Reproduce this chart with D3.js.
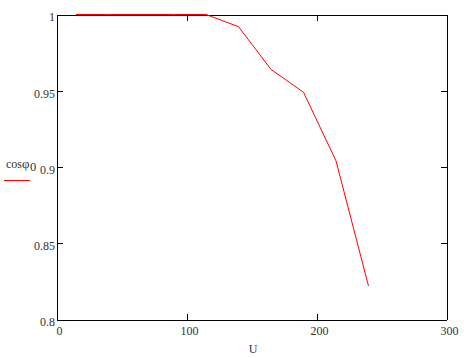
<!DOCTYPE html>
<html>
<head>
<meta charset="utf-8">
<script src="https://cdn.jsdelivr.net/npm/d3@7"></script>
<style>
  html, body { margin: 0; padding: 0; background: #fff; }
  svg { display: block; }
  text { font-family: "Liberation Serif", "Times New Roman", serif; fill: #333; }
</style>
</head>
<body>
<svg id="chart" width="464" height="358"></svg>
<script>
const U = [15, 40, 65, 90, 115, 140, 165, 190, 215, 240];
const cosPhi = [1, 1, 1, 1, 1, 0.992, 0.964, 0.949, 0.904, 0.822];
const xTicks = [0, 100, 200, 300];
const yTicks = [0.8, 0.85, 0.9, 0.95, 1];
const yTickLabels = ["0.8", "0.85", "0.9", "0.95", "1"];

const svg = d3.select("#chart");
const x = d3.scaleLinear().domain([0, 300]).range([56.5, 446.5]);
const y = d3.scaleLinear().domain([0.8, 1]).range([319.5, 14.5]);

const fontSize = 12;

// bottom axis
const gB = svg.append("g").attr("transform", `translate(0,${y(0.8)})`)
  .call(d3.axisBottom(x).tickValues(xTicks).tickSize(-6).tickSizeOuter(0).tickPadding(6.5).tickFormat(d3.format("d")));
gB.selectAll("text").attr("dx", 2.5);
// top axis
svg.append("g").attr("transform", `translate(0,${y(1)})`)
  .call(d3.axisTop(x).tickValues(xTicks).tickSize(-6).tickSizeOuter(0).tickFormat(""));
// left axis
const gL = svg.append("g").attr("transform", `translate(${x(0)},0)`)
  .call(d3.axisLeft(y).tickValues(yTicks).tickSize(-6).tickSizeOuter(0).tickPadding(1.5)
    .tickFormat((d, i) => yTickLabels[i]));
gL.selectAll("text").attr("y", 2.5);
// right axis
svg.append("g").attr("transform", `translate(${x(300)},0)`)
  .call(d3.axisRight(y).tickValues(yTicks).tickSize(-6).tickSizeOuter(0).tickFormat(""));

svg.selectAll(".domain, .tick line").attr("stroke", "#000").attr("stroke-width", 1)
  .attr("shape-rendering", "crispEdges");
svg.selectAll(".tick text").attr("font-size", fontSize)
  .attr("font-family", "'Liberation Serif', serif").attr("fill", "#333");

// data line
const line = d3.line().x((d, i) => x(U[i])).y(d => y(d));
svg.append("path").datum(cosPhi)
  .attr("d", line).attr("fill", "none").attr("stroke", "#ff0000").attr("stroke-width", 1);

// x axis title
svg.append("text").attr("x", 253).attr("y", 353).attr("text-anchor", "middle")
  .attr("font-size", fontSize).text("U");

// legend
const lg = svg.append("text").attr("x", 6).attr("y", 168).attr("font-size", fontSize);
lg.append("tspan").text("cos");
lg.append("tspan").attr("font-size", 13).text("φ");
lg.append("tspan").attr("dy", 2.5).attr("dx", 0.5).attr("font-size", 12.5).text("0");
svg.append("line").attr("x1", 4).attr("x2", 30).attr("y1", 180.5).attr("y2", 180.5)
  .attr("stroke", "#ff0000").attr("stroke-width", 1);
</script>
</body>
</html>
